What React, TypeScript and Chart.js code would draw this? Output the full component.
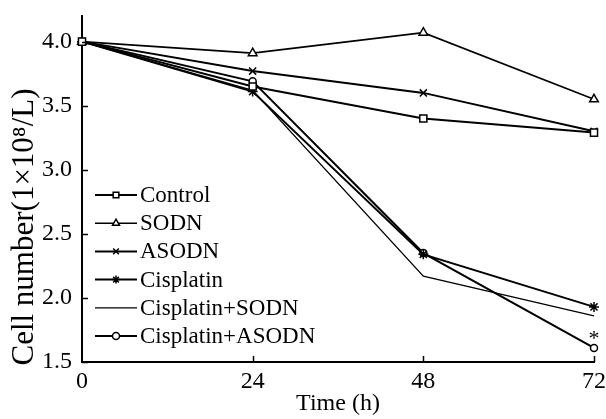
import React, { useEffect, useRef } from "react";
import { Chart, registerables } from "chart.js";

Chart.register(...registerables);

// ---- data ----
const hours = [0, 24, 48, 72];
const seriesNames = ["Control", "SODN", "ASODN", "Cisplatin", "Cisplatin+SODN", "Cisplatin+ASODN"];
const control = [4.0, 3.65, 3.4, 3.29];
const sodn = [4.0, 3.91, 4.07, 3.55];
const asodn = [4.0, 3.77, 3.6, 3.3];
const cisplatin = [4.0, 3.61, 2.34, 1.93];
const cisSodn = [4.0, 3.62, 2.17, 1.86];
const cisAsodn = [4.0, 3.69, 2.35, 1.61];
const yTicks = [1.5, 2.0, 2.5, 3.0, 3.5, 4.0];
const xTicks = [0, 24, 48, 72];
const xTitle = "Time (h)";
const yTitle = "Cell number(1\u00d710\u2078/L)";
const significanceMark = "*";

const seriesValues = [control, sodn, asodn, cisplatin, cisSodn, cisAsodn];
const pointStyles = ["rect", "triangle", "crossRot", "star", "none", "circle"];
const pointSizes = [5, 5, 5, 5, 0, 3.5];
const lineWidths = [2, 1.6, 2, 2, 1.3, 2];

const FONT = '"Liberation Serif", "Times New Roman", serif';

function drawMarker(ctx: CanvasRenderingContext2D, style: string, x: number, y: number, r: number) {
  if (style === "none" || r <= 0) return;
  ctx.save();
  ctx.lineWidth = 1.5;
  ctx.strokeStyle = "#000";
  ctx.fillStyle = "#fff";
  ctx.beginPath();
  if (style === "rect") {
    const s = (r * Math.SQRT2) / 2;
    ctx.rect(x - s, y - s, 2 * s, 2 * s);
    ctx.fill();
    ctx.stroke();
  } else if (style === "circle") {
    ctx.arc(x, y, r, 0, Math.PI * 2);
    ctx.fill();
    ctx.stroke();
  } else if (style === "triangle") {
    ctx.moveTo(x, y - r);
    ctx.lineTo(x + r * 0.866, y + r * 0.5);
    ctx.lineTo(x - r * 0.866, y + r * 0.5);
    ctx.closePath();
    ctx.fill();
    ctx.stroke();
  } else {
    const d = r * 0.707;
    ctx.moveTo(x - d, y - d);
    ctx.lineTo(x + d, y + d);
    ctx.moveTo(x + d, y - d);
    ctx.lineTo(x - d, y + d);
    if (style === "star") {
      ctx.moveTo(x, y - r);
      ctx.lineTo(x, y + r);
      ctx.moveTo(x - r, y);
      ctx.lineTo(x + r, y);
    }
    ctx.stroke();
  }
  ctx.restore();
}

const decor = {
  id: "decor",
  afterDraw(chart: any) {
    const { ctx, chartArea } = chart;
    const xs = chart.scales.x;
    const ys = chart.scales.y;
    ctx.save();
    ctx.strokeStyle = "#000";
    ctx.lineWidth = 1.5;
    // inward tick marks
    for (const v of yTicks) {
      const py = Math.round(ys.getPixelForValue(v)) + 0.5;
      ctx.beginPath();
      ctx.moveTo(chartArea.left, py);
      ctx.lineTo(chartArea.left + 6, py);
      ctx.stroke();
    }
    for (const v of xTicks.slice(1)) {
      const px = Math.round(xs.getPixelForValue(v)) + 0.5;
      ctx.beginPath();
      ctx.moveTo(px, chartArea.bottom);
      ctx.lineTo(px, chartArea.bottom - 6);
      ctx.stroke();
    }
    // axis titles
    ctx.fillStyle = "#000";
    ctx.textAlign = "center";
    ctx.textBaseline = "middle";
    ctx.font = "24px " + FONT;
    ctx.fillText(xTitle, (chartArea.left + chartArea.right) / 2, 404);
    ctx.save();
    ctx.translate(25, 227);
    ctx.rotate(-Math.PI / 2);
    ctx.font = "31px " + FONT;
    ctx.fillText(yTitle, 0, 0);
    ctx.restore();
    // legend
    ctx.textAlign = "left";
    ctx.font = "23px " + FONT;
    const x0 = 95, x1 = 137, tx = 140, y0 = 195, dy = 28.2;
    seriesNames.forEach((name, i) => {
      const yy = y0 + i * dy;
      ctx.lineWidth = lineWidths[i];
      ctx.beginPath();
      ctx.moveTo(x0, yy);
      ctx.lineTo(x1, yy);
      ctx.stroke();
      drawMarker(ctx, pointStyles[i], (x0 + x1) / 2, yy, i === 5 ? 3.5 : 4);
      ctx.fillText(name, tx, yy + 1);
    });
    // significance mark
    const last = cisAsodn.length - 1;
    const mx = xs.getPixelForValue(hours[last]);
    const my = ys.getPixelForValue(cisAsodn[last]);
    ctx.textAlign = "center";
    ctx.textBaseline = "middle";
    ctx.font = "22px " + FONT;
    ctx.fillText(significanceMark, mx, my - 9);
    ctx.restore();
  },
};

export default function App() {
  const ref = useRef<HTMLCanvasElement>(null);
  useEffect(() => {
    const datasets = seriesNames.map((name, i) => ({
      label: name,
      data: hours.map((h, j) => ({ x: h, y: seriesValues[i][j] })),
      borderColor: "#000",
      backgroundColor: "#fff",
      borderWidth: lineWidths[i],
      pointStyle: pointStyles[i] === "none" ? false : pointStyles[i],
      pointRadius: pointSizes[i],
      pointBorderWidth: 1.5,
      pointBackgroundColor: "#fff",
      pointBorderColor: "#000",
      tension: 0,
      clip: false as any,
    }));
    const chart = new Chart(ref.current!, {
      type: "line",
      data: { datasets },
      options: {
        animation: false,
        responsive: false,
        devicePixelRatio: 1,
        layout: { padding: { top: 16, right: 12, left: 0, bottom: 0 } },
        plugins: { legend: { display: false }, tooltip: { enabled: false } },
        scales: {
          x: {
            type: "linear",
            min: 0,
            max: 72,
            grid: { display: false, drawTicks: false },
            border: { display: true, color: "#000", width: 2 },
            ticks: {
              stepSize: 24,
              padding: 5,
              maxRotation: 0,
              color: "#000",
              font: { family: FONT, size: 24 },
            },
            afterFit: (s: any) => {
              s.height = 57;
              s.paddingLeft = 0;
              s.paddingRight = 0;
            },
          },
          y: {
            type: "linear",
            min: 1.5,
            max: 4.2,
            grid: { display: false, drawTicks: false },
            border: { display: true, color: "#000", width: 2 },
            ticks: {
              stepSize: 0.5,
              padding: 10,
              color: "#000",
              font: { family: FONT, size: 24 },
              callback: (v: any) => Number(v).toFixed(1),
            },
            afterBuildTicks: (s: any) => {
              s.ticks = yTicks.map((v) => ({ value: v }));
            },
            afterFit: (s: any) => {
              s.width = 82;
              s.paddingTop = 0;
              s.paddingBottom = 0;
            },
          },
        },
      },
      plugins: [decor],
    } as any);
    return () => chart.destroy();
  }, []);
  return (
    <div style={{ position: "fixed", left: 0, top: 0, width: 606, height: 419, background: "#fff" }}>
      <canvas ref={ref} width={606} height={419} style={{ display: "block", width: 606, height: 419 }} />
    </div>
  );
}
